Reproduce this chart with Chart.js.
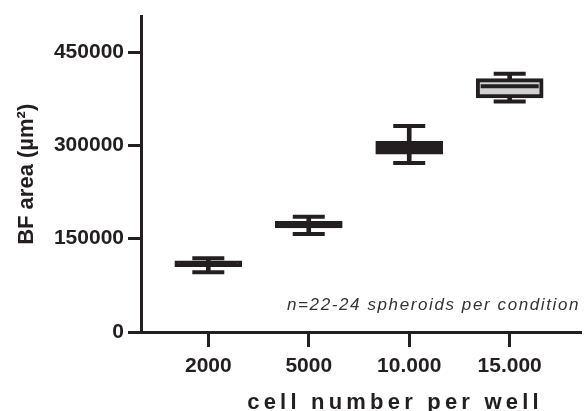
<!DOCTYPE html>
<html>
<head>
<meta charset="utf-8">
<script src="https://cdn.jsdelivr.net/npm/chart.js@4.4.1/dist/chart.umd.min.js"></script>
<style>
  body { margin: 0; background: #fff; }
  #wrap { width: 585px; height: 411px; }
</style>
</head>
<body>
<div id="wrap"><canvas id="chartBF"></canvas></div>
<script>
// Datos (área BF en µm²)
var categories = ["2000", "5000", "10.000", "15.000"];
var minValues = [96000, 157600, 271500, 370500];
var q1Values = [105200, 167300, 285900, 376200];
var medianValues = [110000, 172000, 295000, 395000];
var q3Values = [114300, 178000, 306300, 407300];
var maxValues = [118700, 185400, 331300, 415000];
var yTicks = [0, 150000, 300000, 450000];
var boxFills = ["#231f20", "#231f20", "#231f20", "#d2d2d2"];

var ink = "#231f20";
Chart.defaults.font.family = "'Liberation Sans', Arial, sans-serif";

document.addEventListener("DOMContentLoaded", function () {
  var ctx = document.getElementById("chartBF").getContext("2d");

  var boxData = categories.map(function (c, i) {
    return { x: i + 1, y: [q1Values[i], q3Values[i]] };
  });
  var stemData = categories.map(function (c, i) {
    return { x: i + 1, y: [minValues[i], maxValues[i]] };
  });
  var capData = [];
  categories.forEach(function (c, i) {
    capData.push({ x: i + 1, y: minValues[i] });
    capData.push({ x: i + 1, y: maxValues[i] });
  });
  var medianData = categories.map(function (c, i) {
    return { x: i + 1, y: medianValues[i] };
  });

  // textos extra: título del eje x y nota
  var textos = {
    id: "textos",
    afterDraw: function (chart) {
      var c = chart.ctx;
      c.save();
      c.fillStyle = ink;
      c.textAlign = "center";
      c.textBaseline = "middle";
      c.font = "bold 22px 'Liberation Sans', Arial, sans-serif";
      c.letterSpacing = "4.2px";
      c.fillText("cell number per well", 395, 403);
      c.fillStyle = "#333";
      c.textAlign = "right";
      c.font = "italic 17px 'Liberation Sans', Arial, sans-serif";
      c.letterSpacing = "1.6px";
      c.fillText("n=22-24 spheroids per condition", 580, 305);
      c.restore();
    },
  };

  new Chart(ctx, {
    type: "bar",
    data: {
      datasets: [
        {
          label: "whisker",
          data: stemData,
          backgroundColor: ink,
          barThickness: 4,
          grouped: false,
          order: 3,
        },
        {
          label: "box",
          data: boxData,
          backgroundColor: boxFills,
          borderColor: ink,
          borderWidth: [3.5, 3.5, 3.5, 4],
          borderSkipped: false,
          barThickness: 67,
          grouped: false,
          order: 2,
        },
        {
          type: "line",
          label: "caps",
          data: capData,
          showLine: false,
          pointStyle: "line",
          pointRadius: 16,
          pointBorderWidth: 4,
          pointBorderColor: ink,
          order: 1,
        },
        {
          type: "line",
          label: "median",
          data: medianData,
          showLine: false,
          pointStyle: "line",
          pointRadius: 29,
          pointBorderWidth: 4,
          pointBorderColor: ink,
          order: 0,
        },
      ],
    },
    options: {
      responsive: true,
      maintainAspectRatio: false,
      animation: false,
      events: [],
      layout: {
        autoPadding: false,
        padding: { top: 0, right: 5, left: 0, bottom: 0 },
      },
      plugins: {
        legend: { display: false },
        tooltip: { enabled: false },
      },
      scales: {
        x: {
          type: "linear",
          offset: false,
          min: 0.33,
          max: 4.7,
          afterBuildTicks: function (axis) {
            axis.ticks = categories.map(function (c, i) {
              return { value: i + 1 };
            });
          },
          afterFit: function (axis) {
            axis.height = 79;
          },
          ticks: {
            color: ink,
            padding: 7,
            font: { size: 21, weight: "bold" },
            callback: function (value) {
              return categories[value - 1];
            },
          },
          grid: {
            offset: false,
            drawOnChartArea: false,
            drawTicks: true,
            tickLength: 15,
            color: ink,
            lineWidth: 3,
          },
          border: { display: true, color: ink, width: 3 },
        },
        y: {
          min: 0,
          max: 507000,
          afterBuildTicks: function (axis) {
            axis.ticks = yTicks.map(function (v) {
              return { value: v };
            });
          },
          afterFit: function (axis) {
            axis.width = 141;
          },
          ticks: {
            color: ink,
            padding: 4,
            font: { size: 21, weight: "bold" },
            callback: function (value) {
              return String(value);
            },
          },
          grid: {
            drawOnChartArea: false,
            drawTicks: true,
            tickLength: 13,
            color: ink,
            lineWidth: 3,
          },
          border: { display: true, color: ink, width: 3 },
          title: {
            display: true,
            text: "BF area (µm²)",
            color: ink,
            font: { size: 22, weight: "bold" },
            padding: { top: 14, bottom: 0 },
          },
        },
      },
    },
    plugins: [textos],
  });
});
</script>
</body>
</html>
